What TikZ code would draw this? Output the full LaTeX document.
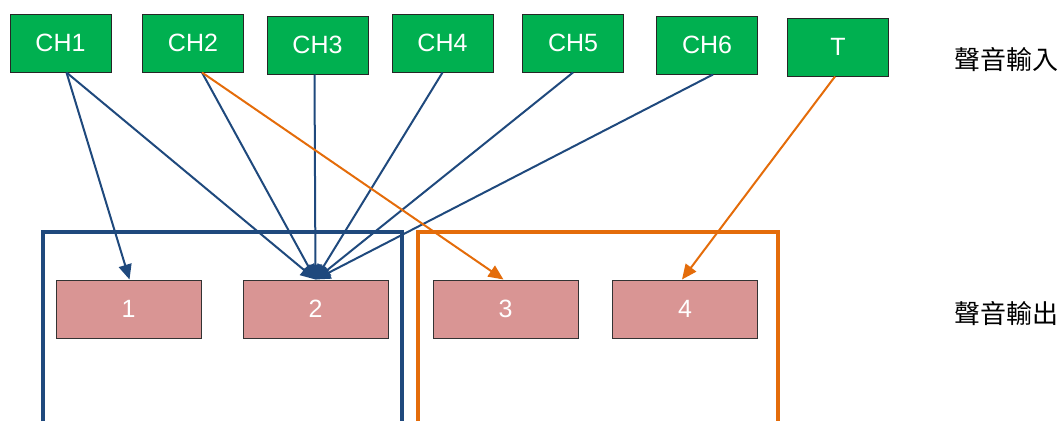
\documentclass[tikz,border=0pt]{standalone}
\usepackage{fontspec}
\setmainfont{Liberation Sans}
\newfontfamily\cjk{Noto Sans CJK TC}
\usetikzlibrary{arrows.meta}
\begin{document}
\begin{tikzpicture}[x=1pt, y=-1pt, font=\fontsize{25}{29}\selectfont,
  inbox/.style={draw=black!85, line width=1pt, fill=ingreen, text=white, minimum width=101pt, minimum height=58pt, inner sep=0pt},
  outbox/.style={draw=black!80, line width=1pt, fill=outpink, text=white, minimum width=145pt, minimum height=58pt, inner sep=0pt},
  bluearr/.style={draw=lineblue, line width=2pt, -{Triangle[length=15pt, width=13pt]}},
  orangearr/.style={draw=lineorange, line width=2pt, -{Triangle[length=15pt, width=13pt]}}]
\definecolor{ingreen}{HTML}{00B050}
\definecolor{outpink}{HTML}{D99594}
\definecolor{lineblue}{HTML}{1F497D}
\definecolor{lineorange}{HTML}{E46C0A}
\useasboundingbox (0,0) rectangle (1063,421);
% groups
\draw[lineblue, line width=3.5pt] (43,421) -- (43,232) -- (402,232) -- (402,421);
\draw[lineorange, line width=3.5pt] (418,421) -- (418,232) -- (778,232) -- (778,421);
% inputs
\foreach \n/\x/\y/\t in {ch1/60.5/43/CH1, ch2/193/43/CH2, ch3/317.5/45/CH3, ch4/442.5/43/CH4,
  ch5/573/43/CH5, ch6/707/45/CH6, t/838/47/T}{
\node[inbox] (\n) at (\x,\y) {\t};}
% outputs
\foreach \n/\x in {1/128.5, 2/315.5, 3/505.5, 4/685}{
\node[outbox] (o\n) at (\x,309) {\n};}
\node[font=\cjk\fontsize{26}{30}\selectfont] (inlabel) at (1006,60) {聲音輸入};
\node[font=\cjk\fontsize{26}{30}\selectfont] (outlabel) at (1006,314) {聲音輸出};
% connections
\draw[bluearr] ([xshift=6pt]ch1.south) -- ([xshift=1pt]o1.north);
\draw[bluearr] ([xshift=6pt]ch1.south) -- (o2.north);
\draw[bluearr] ([xshift=9pt]ch2.south) -- (o2.north);
\draw[bluearr] ([xshift=-3pt]ch3.south) -- (o2.north);
\draw[bluearr] (ch4.south) -- (o2.north);
\draw[bluearr] (ch5.south) -- (o2.north);
\draw[bluearr] ([xshift=6pt]ch6.south) -- (o2.north);
\draw[orangearr] ([xshift=9pt]ch2.south) -- ([xshift=-2pt]o3.north);
\draw[orangearr] ([xshift=-3pt]t.south) -- ([xshift=-3pt]o4.north);
\end{tikzpicture}
\end{document}
